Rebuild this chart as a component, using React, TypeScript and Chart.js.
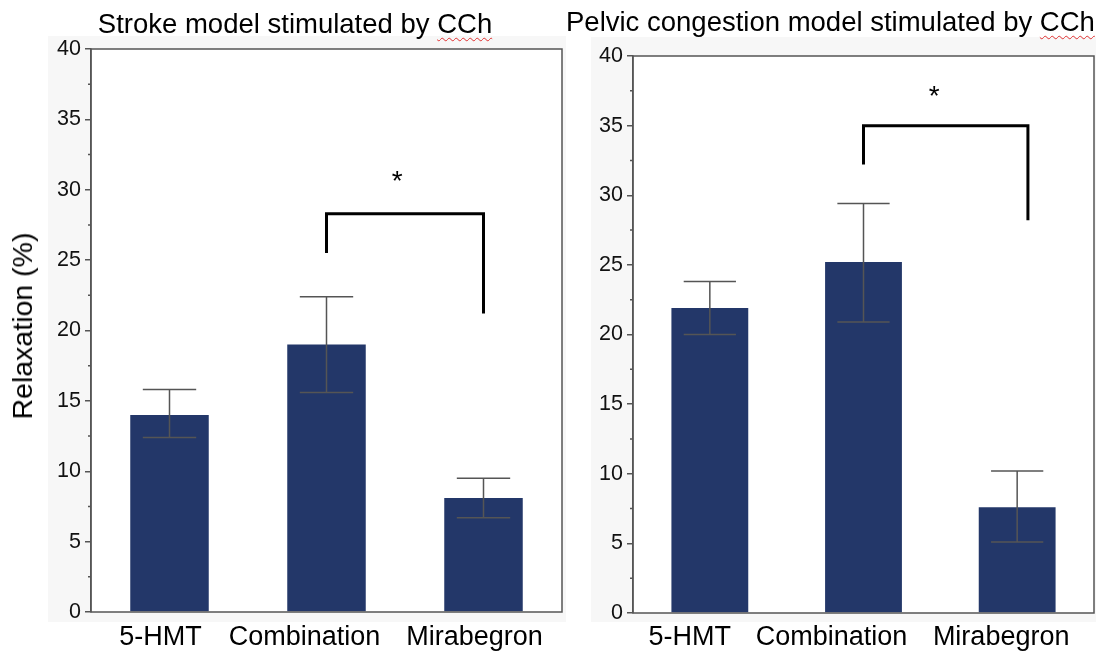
import React, { useEffect, useRef } from 'react';
import { Chart, registerables } from 'chart.js';
Chart.register(...registerables);

const categories = ['5-HMT', 'Combination', 'Mirabegron'];

const strokeMeans = [14.0, 19.0, 8.1];
const strokeUpper = [15.8, 22.4, 9.5];
const strokeLower = [12.4, 15.6, 6.7];

const pelvicMeans = [21.9, 25.2, 7.6];
const pelvicUpper = [23.8, 29.4, 10.2];
const pelvicLower = [20.0, 20.9, 5.1];

const yMin = 0;
const yMax = 40;
const yStep = 5;

// significance brackets (values in data units / category index)
const strokeSig = { from: 1, to: 2, top: 28.3, leftFoot: 25.5, rightFoot: 21.2, star: 30.9, starPos: 1.45, rightShift: 0 };
const pelvicSig = { from: 1, to: 2, top: 35.0, leftFoot: 32.2, rightFoot: 28.2, star: 37.4, starPos: 1.46, rightShift: 0.07 };

const FONT = "'Liberation Sans', Arial, sans-serif";
const BAR = '#233769';

type Panel = { x: number; y: number; w: number; h: number };
type Layout = {
  width: number; height: number; left: number; top: number; right: number; bottom: number; panel: Panel;
  labelShift: number[]; labelGap: number;
};

function makePlugin(layout: Layout, upper: number[], lower: number[], sig: any) {
  return {
    id: 'decor',
    beforeDraw(chart: any) {
      const ctx = chart.ctx;
      const a = chart.chartArea;
      ctx.save();
      ctx.fillStyle = '#f7f7f7';
      ctx.fillRect(layout.panel.x, layout.panel.y, layout.panel.w, layout.panel.h);
      ctx.fillStyle = '#ffffff';
      ctx.fillRect(a.left, a.top, a.right - a.left, a.bottom - a.top);
      ctx.restore();
    },
    afterDatasetsDraw(chart: any) {
      const ctx = chart.ctx;
      const xs = chart.scales.x;
      const ys = chart.scales.y;
      const catW = xs.getPixelForValue(1) - xs.getPixelForValue(0);
      ctx.save();
      // error bars
      ctx.strokeStyle = '#555555';
      ctx.lineWidth = 1.5;
      const half = catW * 0.17;
      for (let i = 0; i < upper.length; i++) {
        const x = xs.getPixelForValue(i);
        const yU = ys.getPixelForValue(upper[i]);
        const yL = ys.getPixelForValue(lower[i]);
        ctx.beginPath();
        ctx.moveTo(x, yU);
        ctx.lineTo(x, yL);
        ctx.moveTo(x - half, yU);
        ctx.lineTo(x + half, yU);
        ctx.moveTo(x - half, yL);
        ctx.lineTo(x + half, yL);
        ctx.stroke();
      }
      // significance bracket
      const x1 = xs.getPixelForValue(sig.from);
      const x2 = xs.getPixelForValue(sig.to) + sig.rightShift * catW;
      const yT = ys.getPixelForValue(sig.top);
      ctx.strokeStyle = '#000000';
      ctx.lineWidth = 3;
      ctx.lineCap = 'butt';
      ctx.beginPath();
      ctx.moveTo(x1, ys.getPixelForValue(sig.leftFoot));
      ctx.lineTo(x1, yT);
      ctx.lineTo(x2, yT);
      ctx.lineTo(x2, ys.getPixelForValue(sig.rightFoot));
      ctx.stroke();
      // star
      ctx.fillStyle = '#000000';
      ctx.font = `28px ${FONT}`;
      ctx.textAlign = 'center';
      ctx.textBaseline = 'alphabetic';
      const sx = xs.getPixelForValue(0) + sig.starPos * catW;
      const sy = ys.getPixelForValue(sig.star);
      ctx.fillText('*', sx, sy + 28 * 0.46);
      ctx.restore();
    },
    afterDraw(chart: any) {
      const ctx = chart.ctx;
      const a = chart.chartArea;
      const xs = chart.scales.x;
      const ys = chart.scales.y;
      ctx.save();
      ctx.strokeStyle = '#555555';
      ctx.lineWidth = 1.5;
      ctx.strokeRect(a.left, a.top, a.right - a.left, a.bottom - a.top);
      // minor ticks
      ctx.beginPath();
      for (let v = yMin + yStep / 2; v < yMax; v += yStep) {
        const y = ys.getPixelForValue(v);
        ctx.moveTo(a.left - 3, y);
        ctx.lineTo(a.left, y);
      }
      ctx.stroke();
      // category labels
      ctx.fillStyle = '#000000';
      ctx.font = `27px ${FONT}`;
      ctx.textAlign = 'center';
      ctx.textBaseline = 'middle';
      categories.forEach((c, i) => {
        ctx.fillText(c, xs.getPixelForValue(i) + layout.labelShift[i], a.bottom + layout.labelGap);
      });
      ctx.restore();
    },
  };
}

function BarPanel({ layout, means, upper, lower, sig }: { layout: Layout; means: number[]; upper: number[]; lower: number[]; sig: any }) {
  const ref = useRef<HTMLCanvasElement | null>(null);
  useEffect(() => {
    if (!ref.current) return;
    const chart = new Chart(ref.current, {
      type: 'bar',
      data: {
        labels: categories,
        datasets: [
          {
            data: means,
            backgroundColor: BAR,
            borderWidth: 0,
            categoryPercentage: 1,
            barPercentage: 0.5,
          },
        ],
      },
      options: {
        responsive: false,
        animation: false,
        layout: { padding: { left: 0, top: layout.top, right: layout.width - layout.right, bottom: 0 } },
        plugins: { legend: { display: false }, tooltip: { enabled: false }, title: { display: false } },
        scales: {
          x: {
            grid: { display: false, drawTicks: false, tickLength: 0 },
            border: { display: false },
            ticks: { display: false },
            afterFit: (s: any) => { s.height = layout.height - layout.bottom; },
          },
          y: {
            min: yMin,
            max: yMax,
            grid: { drawOnChartArea: false, tickLength: 6, color: '#555555', lineWidth: 1.5 },
            border: { display: true, color: '#555555', width: 1.5 },
            ticks: { stepSize: yStep, color: '#111', font: { family: FONT, size: 21.5 }, padding: 4 },
            afterFit: (s: any) => { s.width = layout.left; },
          },
        },
      },
      plugins: [makePlugin(layout, upper, lower, sig)],
    });
    return () => chart.destroy();
  }, []);
  return <canvas ref={ref} width={layout.width} height={layout.height} style={{ width: layout.width, height: layout.height, display: 'block' }} />;
}

const leftLayout: Layout = {
  width: 580, height: 653, left: 91, top: 49, right: 562, bottom: 612, panel: { x: 48, y: 36, w: 518, h: 586 },
  labelShift: [-9, -22, -9], labelGap: 26,
};
const rightLayout: Layout = {
  width: 516, height: 653, left: 53, top: 56, right: 514, bottom: 613, panel: { x: 11, y: 37, w: 505, h: 585 },
  labelShift: [-20, -32, -16], labelGap: 25,
};

export default function App() {
  const titleStyle: React.CSSProperties = {
    position: 'absolute', top: 10, fontFamily: FONT, fontSize: 27.5, lineHeight: '28px', color: '#000', textAlign: 'center', whiteSpace: 'nowrap',
  };
  const cch = <span style={{ textDecoration: 'underline wavy #e03030', textDecorationThickness: 1, textUnderlineOffset: 4 }}>CCh</span>;
  return (
    <div style={{ position: 'absolute', left: 0, top: 0, width: 1096, height: 653, background: '#fff', overflow: 'hidden' }}>
      <div style={{ position: 'absolute', left: 0, top: 0 }}>
        <BarPanel layout={leftLayout} means={strokeMeans} upper={strokeUpper} lower={strokeLower} sig={strokeSig} />
      </div>
      <div style={{ position: 'absolute', left: 580, top: 0 }}>
        <BarPanel layout={rightLayout} means={pelvicMeans} upper={pelvicUpper} lower={pelvicLower} sig={pelvicSig} />
      </div>
      <div style={{ ...titleStyle, left: 0, width: 590 }}>Stroke model stimulated by {cch}</div>
      <div style={{ ...titleStyle, left: 566, width: 520, top: 8 }}>Pelvic congestion model stimulated by {cch}</div>
      <div
        style={{
          position: 'absolute', left: 22, top: 326, transform: 'translate(-50%, -50%) rotate(-90deg)', fontFamily: FONT, fontSize: 28.5,
          lineHeight: '28px', whiteSpace: 'nowrap', color: '#000',
        }}
      >
        Relaxation (%)
      </div>
    </div>
  );
}
